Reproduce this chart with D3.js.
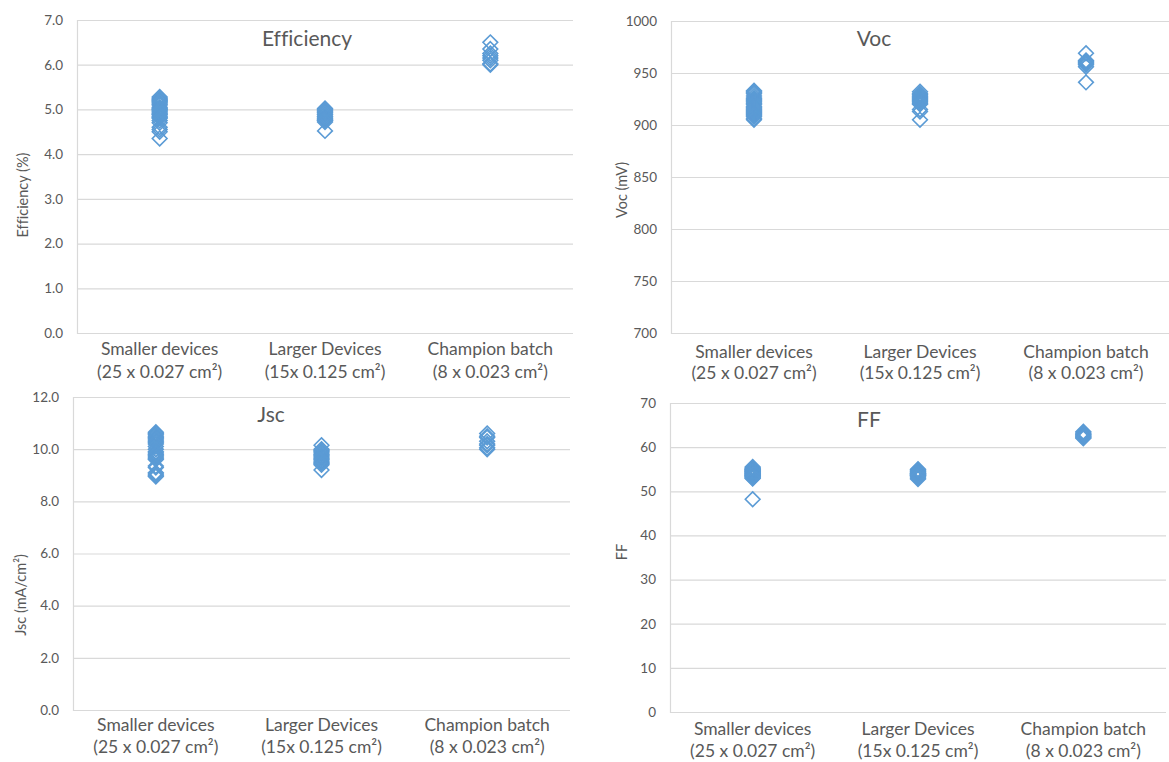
<!DOCTYPE html>
<html>
<head>
<meta charset="utf-8">
<script src="https://cdn.jsdelivr.net/npm/d3@7"></script>
<style>
  html, body { margin: 0; padding: 0; background: #ffffff; }
  svg { display: block; font-family: Lato, "Open Sans", "Liberation Sans", sans-serif; }
  svg text { font-variant-ligatures: none; font-feature-settings: "liga" 0; }
</style>
</head>
<body>
<svg id="chart" width="1169" height="762"></svg>
<script>
// Device groups shown on every panel
const categories = ["Smaller devices", "Larger Devices", "Champion batch"];
const categorySizes = ["(25 x 0.027 cm²)", "(15x 0.125 cm²)", "(8 x 0.023 cm²)"];

// Power conversion efficiency (%)
const effSmall = [5.28, 5.25, 5.22, 5.20, 5.18, 5.15, 5.12, 5.10, 5.05, 5.02, 5.00, 4.98, 4.95,
                  4.92, 4.90, 4.88, 4.85, 4.82, 4.80, 4.75, 4.70, 4.60, 4.55, 4.50, 4.35];
const effLarge = [5.02, 5.00, 4.98, 4.95, 4.93, 4.90, 4.88, 4.85, 4.83, 4.80, 4.78, 4.76, 4.75, 4.72, 4.52];
const effChamp = [6.50, 6.35, 6.25, 6.20, 6.15, 6.10, 6.02, 6.00];

// Open-circuit voltage (mV)
const vocSmall = [933, 932, 931, 930, 928, 926, 925, 924, 923, 922, 921, 920, 918,
                  917, 916, 915, 914, 913, 912, 911, 910, 909, 908, 906, 905];
const vocLarge = [932, 930, 929, 928, 927, 926, 925, 924, 923, 922, 921, 920, 915, 913, 905];
const vocChamp = [969, 962, 961, 960, 959, 958, 956, 941];

// Short-circuit current density (mA/cm²)
const jscSmall = [10.65, 10.60, 10.55, 10.50, 10.45, 10.40, 10.35, 10.30, 10.25, 10.20, 10.10, 10.00, 9.90,
                  9.85, 9.80, 9.75, 9.70, 9.65, 9.60, 9.35, 9.30, 9.10, 9.05, 9.00, 8.95];
const jscLarge = [10.15, 10.00, 9.95, 9.90, 9.85, 9.80, 9.75, 9.70, 9.65, 9.60, 9.55, 9.50, 9.45, 9.40, 9.20];
const jscChamp = [10.60, 10.50, 10.45, 10.30, 10.20, 10.15, 10.05, 10.00];

// Fill factor
const ffSmall = [55.5, 55.3, 55.1, 55.0, 54.9, 54.8, 54.7, 54.6, 54.5, 54.4, 54.3, 54.2, 54.1,
                 54.0, 53.9, 53.8, 53.7, 53.6, 53.5, 53.4, 53.3, 53.2, 53.0, 52.9, 48.2];
const ffLarge = [55.0, 54.8, 54.6, 54.4, 54.2, 54.1, 54.0, 53.9, 53.8, 53.7, 53.6, 53.5, 53.3, 53.0, 52.8];
const ffChamp = [63.5, 63.2, 63.0, 62.8, 62.6, 62.4, 62.2, 62.0];

// Axis ticks per panel
const effTicks = [0, 1, 2, 3, 4, 5, 6, 7];
const vocTicks = [700, 750, 800, 850, 900, 950, 1000];
const jscTicks = [0, 2, 4, 6, 8, 10, 12];
const ffTicks = [0, 10, 20, 30, 40, 50, 60, 70];

const panels = [
  { title: "Efficiency", yTitle: "Efficiency (%)", series: [effSmall, effLarge, effChamp], ticks: effTicks, fmt: d3.format(".1f"),
    box: { x0: 77, x1: 573, y0: 20, y1: 333 }, titlePos: [307, 46], yTitlePos: [23, 195], catY: [349, 372] },
  { title: "Voc", yTitle: "Voc (mV)", series: [vocSmall, vocLarge, vocChamp], ticks: vocTicks, fmt: d3.format("d"),
    box: { x0: 671, x1: 1169, y0: 21, y1: 333 }, titlePos: [874, 46], yTitlePos: [622, 190], catY: [352, 373] },
  { title: "Jsc", yTitle: "Jsc (mA/cm²)", series: [jscSmall, jscLarge, jscChamp], ticks: jscTicks, fmt: d3.format(".1f"),
    box: { x0: 73, x1: 570, y0: 397, y1: 710 }, titlePos: [271, 422], yTitlePos: [21, 595], catY: [725, 747] },
  { title: "FF", yTitle: "FF", series: [ffSmall, ffLarge, ffChamp], ticks: ffTicks, fmt: d3.format("d"),
    box: { x0: 670, x1: 1166, y0: 403, y1: 712 }, titlePos: [869, 427], yTitlePos: [622, 552], catY: [729, 751] }
];

const textColor = "#595959";
const gridColor = "#d9d9d9";
const markerColor = "#5b9bd5";

// Square diamond marker (equal width and height)
const diamond = {
  draw(ctx, size) {
    const r = Math.sqrt(size / 2);
    ctx.moveTo(0, -r);
    ctx.lineTo(r, 0);
    ctx.lineTo(0, r);
    ctx.lineTo(-r, 0);
    ctx.closePath();
  }
};
const marker = d3.symbol().type(diamond).size(108);

const svg = d3.select("#chart");

panels.forEach(p => {
  const b = p.box;
  const x = d3.scaleBand().domain(categories).range([b.x0, b.x1]);
  const y = d3.scaleLinear().domain(d3.extent(p.ticks)).range([b.y1, b.y0]);
  const g = svg.append("g");

  // Horizontal gridlines and tick labels
  const yAxis = d3.axisLeft(y).tickValues(p.ticks).tickFormat(p.fmt)
    .tickSize(-(b.x1 - b.x0)).tickPadding(14);
  const ya = g.append("g").attr("transform", `translate(${b.x0},0)`).call(yAxis);
  ya.select(".domain").attr("stroke", gridColor).attr("stroke-width", 1.2);
  ya.selectAll(".tick line").attr("stroke", gridColor).attr("stroke-width", 1.2);
  ya.selectAll(".tick text").attr("fill", textColor).attr("font-size", 13.5)
    .attr("font-family", "Lato, 'Open Sans', sans-serif");

  // Category labels (two lines each)
  const xa = g.append("g");
  categories.forEach((c, i) => {
    const cx = x(c) + x.bandwidth() / 2;
    xa.append("text").attr("x", cx).attr("y", p.catY[0]).attr("dy", "0.35em")
      .attr("text-anchor", "middle").attr("fill", textColor).attr("font-size", 17.5).text(c);
    xa.append("text").attr("x", cx).attr("y", p.catY[1]).attr("dy", "0.35em")
      .attr("text-anchor", "middle").attr("fill", textColor).attr("font-size", 17.5).text(categorySizes[i]);
  });

  // Panel title
  g.append("text").attr("x", p.titlePos[0]).attr("y", p.titlePos[1])
    .attr("text-anchor", "middle").attr("fill", textColor).attr("font-size", 21).text(p.title);

  // Vertical axis title
  g.append("text")
    .attr("transform", `translate(${p.yTitlePos[0]},${p.yTitlePos[1]}) rotate(-90)`)
    .attr("dy", "0.35em").attr("text-anchor", "middle")
    .attr("fill", textColor).attr("font-size", 14.5).text(p.yTitle);

  // Data markers
  const points = p.series.flatMap((vals, i) => vals.map(v => ({ cat: categories[i], v })));
  g.append("g").selectAll("path").data(points).join("path")
    .attr("transform", d => `translate(${x(d.cat) + x.bandwidth() / 2},${y(d.v)})`)
    .attr("d", marker)
    .attr("fill", "none")
    .attr("stroke", markerColor)
    .attr("stroke-width", 1.6);
});
</script>
</body>
</html>
